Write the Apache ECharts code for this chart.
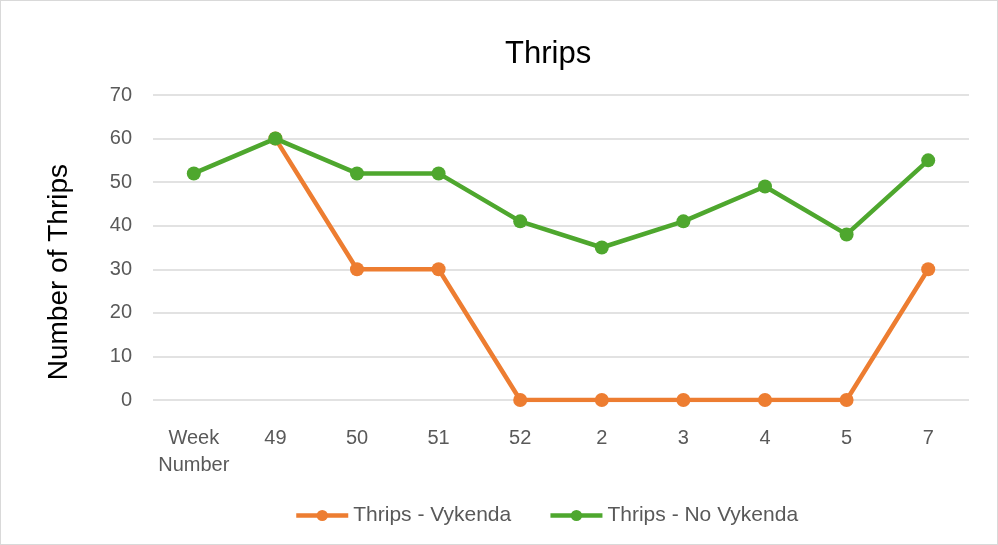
<!DOCTYPE html>
<html><head><meta charset="utf-8">
<script src="https://cdn.jsdelivr.net/npm/echarts@6/dist/echarts.min.js"></script>
<style>html,body{margin:0;padding:0;background:#fff}#c{width:996px;height:543px;border:1px solid #d9d9d9}</style>
</head><body><div id="c"></div>
<script>
const categories = ['Week\nNumber','49','50','51','52','2','3','4','5','7'];
const vykenda = [null,60,30,30,0,0,0,0,0,30];
const noVykenda = [52,60,52,52,41,35,41,49,38,55];
const yTicks = {min:0,max:70,interval:10};
const chart = echarts.init(document.getElementById('c'));
const font = '"Liberation Sans", Arial, sans-serif';
chart.setOption({
  animation:false,
  title:{text:'Thrips',left:499,top:33,textStyle:{fontFamily:font,fontSize:31,fontWeight:'normal',color:'#000'}},
  legend:{top:499,left:288,itemWidth:52,itemHeight:14,itemGap:37,
    textStyle:{fontFamily:font,fontSize:21,color:'#595959'},
    lineStyle:{width:4.5},
    data:['Thrips - Vykenda','Thrips - No Vykenda']},
  grid:{left:152,right:28,top:94,bottom:144},
  xAxis:{type:'category',data:categories,boundaryGap:true,
    axisLine:{show:false},axisTick:{show:false},
    axisLabel:{interval:0,fontFamily:font,fontSize:20,color:'#595959',margin:25,lineHeight:27}},
  yAxis:{type:'value',min:yTicks.min,max:yTicks.max,interval:yTicks.interval,
    axisLine:{show:false},axisTick:{show:false},
    axisLabel:{fontFamily:font,fontSize:20,color:'#595959',margin:21},
    splitLine:{lineStyle:{color:'#d9d9d9',width:1.5}}},
  graphic:[{type:'text',left:44,top:163,rotation:Math.PI/2,
    style:{text:'Number of Thrips',font:'28px '+font,fill:'#000'}}],
  series:[
    {name:'Thrips - Vykenda',type:'line',data:vykenda,symbol:'circle',symbolSize:14,
      lineStyle:{color:'#ED7D31',width:4.5},itemStyle:{color:'#ED7D31'},z:2},
    {name:'Thrips - No Vykenda',type:'line',data:noVykenda,symbol:'circle',symbolSize:14,
      lineStyle:{color:'#4EA72E',width:4.5},itemStyle:{color:'#4EA72E'},z:3}
  ]
});
</script></body></html>
